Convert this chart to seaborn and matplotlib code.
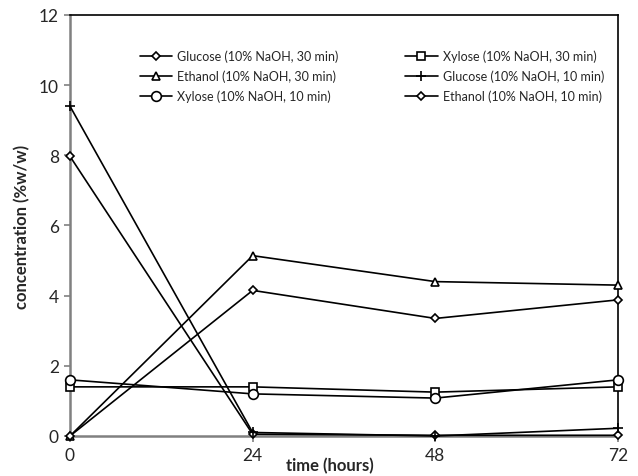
import pandas as pd
import matplotlib
matplotlib.use("Agg")
import matplotlib.pyplot as plt
import seaborn as sns

# time points (hours)
time_h = [0, 24, 48, 72]

# concentrations (%w/w)
glucose_30 = [7.97, 0.05, 0.02, 0.02]
xylose_30 = [1.40, 1.40, 1.25, 1.40]
ethanol_30 = [0.0, 5.14, 4.40, 4.30]
glucose_10 = [9.40, 0.10, 0.0, 0.22]
xylose_10 = [1.60, 1.20, 1.08, 1.60]
ethanol_10 = [0.0, 4.15, 3.35, 3.88]

series_names = [
    "Glucose (10% NaOH, 30 min)",
    "Xylose (10% NaOH, 30 min)",
    "Ethanol (10% NaOH, 30 min)",
    "Glucose (10% NaOH, 10 min)",
    "Xylose (10% NaOH, 10 min)",
    "Ethanol (10% NaOH, 10 min)",
]
series_values = [glucose_30, xylose_30, ethanol_30, glucose_10, xylose_10, ethanol_10]
markers = ["D", "s", "^", "+", "o", "D"]
msizes = [4.2, 6, 6, 6.5, 7, 4.2]

rows = []
for name, vals in zip(series_names, series_values):
    for t, v in zip(time_h, vals):
        rows.append({"series": name, "time": t, "conc": v})
df = pd.DataFrame(rows)

sns.set_style("white")
plt.rcParams["font.family"] = ["Lato", "DejaVu Sans"]

fig = plt.figure(figsize=(6.38, 4.77), dpi=100)
ax = fig.add_axes([0.1097, 0.0839, 0.8590, 0.8826])

for name, m, ms in zip(series_names, markers, msizes):
    sub = df[df["series"] == name]
    sns.lineplot(data=sub, x="time", y="conc", ax=ax, color="black", lw=1.2,
                 marker=m, markersize=ms, markerfacecolor="white",
                 markeredgecolor="black", markeredgewidth=1.2, label=name,
                 clip_on=False, zorder=3)

ax.set_xlim(0, 72)
ax.set_ylim(0, 12)
ax.set_xticks(time_h)
ax.set_yticks([0, 2, 4, 6, 8, 10, 12])
ax.tick_params(axis="both", labelsize=12.5, length=4, width=1.2, color="#808080",
               direction="out", left=True, bottom=True, pad=4)

for side in ["left", "bottom"]:
    ax.spines[side].set_color("#808080")
    ax.spines[side].set_linewidth(1.8)
for side in ["top", "right"]:
    ax.spines[side].set_color("black")
    ax.spines[side].set_linewidth(1.2)

ax.set_xlabel("time (hours)", fontsize=12, fontweight="bold")
ax.xaxis.set_label_coords(0.474, -0.05)
ax.set_ylabel("concentration (%w/w)", fontsize=12, fontweight="bold", labelpad=6)

# legend: Excel fills row-wise, matplotlib column-wise -> reorder
handles, labels = ax.get_legend_handles_labels()
order = [0, 2, 4, 1, 3, 5]
ax.legend([handles[i] for i in order], [labels[i] for i in order], ncol=2,
          frameon=False, fontsize=9, loc="upper left",
          bbox_to_anchor=(0.107, 0.945), handlelength=2.6, columnspacing=5.3,
          labelspacing=0.6, handletextpad=0.4)

fig.savefig("out.png", dpi=100)
